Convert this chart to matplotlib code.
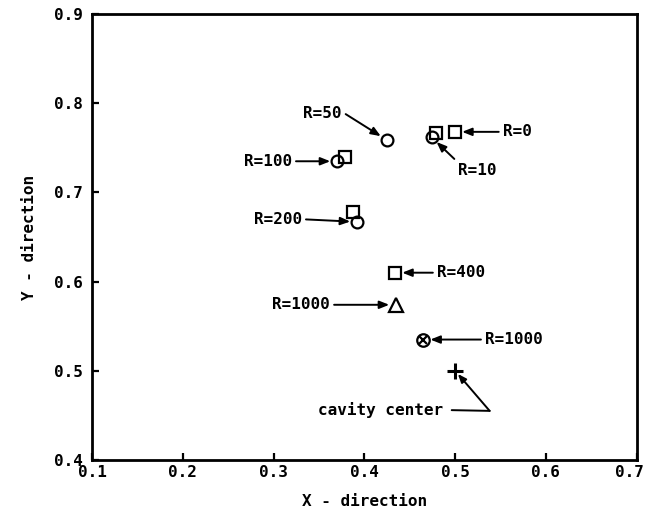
import matplotlib
matplotlib.use("Agg")
import matplotlib.pyplot as plt
from matplotlib import font_manager
from matplotlib.transforms import ScaledTranslation

# Vortex-centre locations for several values of R
sq_x = [0.500, 0.479, 0.379, 0.387, 0.434]      # squares: R=0, 10, 100, 200, 400
sq_y = [0.768, 0.767, 0.740, 0.678, 0.610]
ci_x = [0.474, 0.4245, 0.370, 0.392]            # circles: R=10, 50, 100, 200
ci_y = [0.762, 0.759, 0.735, 0.667]
tri_x, tri_y = [0.435], [0.574]                 # triangle: R=1000
ox_x, ox_y = [0.465], [0.535]                   # circled cross: R=1000
cc_x, cc_y = [0.500], [0.500]                   # cavity centre

x_ticks = [0.1, 0.2, 0.3, 0.4, 0.5, 0.6, 0.7]
y_ticks = [0.4, 0.5, 0.6, 0.7, 0.8, 0.9]

available = {f.name for f in font_manager.fontManager.ttflist}
family = "DejaVu Sans Mono" if "DejaVu Sans Mono" in available else "monospace"
plt.rcParams["font.family"] = [family, "DejaVu Sans"]
plt.rcParams["font.weight"] = "bold"
FS = 11.5

fig = plt.figure(figsize=(6.49, 5.25), dpi=100)
ax = fig.add_axes([0.142, 0.124, 0.839, 0.849])

mk = dict(linestyle="none", color="black", markerfacecolor="none", markeredgewidth=1.6)
ax.plot(sq_x, sq_y, marker="s", markersize=8.5, **mk)
ax.plot(ci_x, ci_y, marker="o", markersize=8.5, **mk)
ax.plot(tri_x, tri_y, marker="^", markersize=9.5, **mk)
ax.plot(ox_x, ox_y, marker="o", markersize=9, **mk)
ax.plot(ox_x, ox_y, marker="x", markersize=5.5, **mk)
ax.plot(cc_x, cc_y, marker="+", markersize=11, linestyle="none", color="black",
        markeredgewidth=2.2)

arrow = dict(arrowstyle="-|>,head_length=0.5,head_width=0.2", color="black",
             lw=1.4, shrinkA=1, shrinkB=5)


def label(text, target, pos, ha, relpos):
    ax.annotate(text, xy=target, xytext=pos, ha=ha, va="center", fontsize=FS,
                fontweight="bold",
                arrowprops=dict(relpos=relpos, **arrow))


label("R=0", (sq_x[0], sq_y[0]), (0.5526, sq_y[0]), "left", (0, 0.5))
label("R=10", (ci_x[0], ci_y[0]), (0.503, 0.725), "left", (0.05, 0.9))
label("R=50", (ci_x[1], ci_y[1]), (0.375, 0.789), "right", (1, 0.6))
label("R=100", (ci_x[2], ci_y[2]), (0.320, ci_y[2]), "right", (1, 0.5))
label("R=200", (ci_x[3], ci_y[3]), (0.331, 0.670), "right", (1, 0.5))
label("R=400", (sq_x[4], sq_y[4]), (0.480, sq_y[4]), "left", (0, 0.5))
label("R=1000", (tri_x[0], tri_y[0]), (0.362, tri_y[0]), "right", (1, 0.5))
label("R=1000", (ox_x[0], ox_y[0]), (0.533, ox_y[0]), "left", (0, 0.5))

# "cavity center" leader: horizontal run, then a bent arrow up to the cross
corner = (0.538, 0.455)
ax.annotate("cavity center", xy=corner, xytext=(0.487, 0.456), ha="right",
            va="center", fontsize=FS, fontweight="bold",
            arrowprops=dict(arrowstyle="-", color="black", lw=1.4,
                            shrinkA=4, shrinkB=0, relpos=(1, 0.5)))
ax.annotate("", xy=(cc_x[0], cc_y[0]), xytext=corner,
            arrowprops=dict(arrowstyle="-|>,head_length=0.5,head_width=0.2",
                            color="black", lw=1.4, shrinkA=0, shrinkB=3))

ax.set_xlim(0.1, 0.7)
ax.set_ylim(0.4, 0.9)
ax.set_xticks(x_ticks)
ax.set_yticks(y_ticks)
ax.set_xticklabels([f"{v:.1f}" for v in x_ticks], fontsize=FS, fontweight="bold")
ax.set_yticklabels([f"{v:.1f}" for v in y_ticks], fontsize=FS, fontweight="bold")
ax.tick_params(direction="in", length=5, width=1.6, top=False, right=False)
ax.tick_params(axis="x", pad=4)
ax.tick_params(axis="y", pad=7)
for s in ax.spines.values():
    s.set_linewidth(2.0)

ax.set_xlabel("X - direction", fontsize=FS, fontweight="bold", labelpad=10)
ax.set_ylabel("Y - direction", fontsize=FS, fontweight="bold", labelpad=12)

# nudge the last x label left so it stays inside the figure edge
fig.canvas.draw()
last = ax.xaxis.get_major_ticks()[-1].label1
last.set_transform(last.get_transform() + ScaledTranslation(-5 / 72, 0, fig.dpi_scale_trans))

fig.savefig("out.png", dpi=100)
